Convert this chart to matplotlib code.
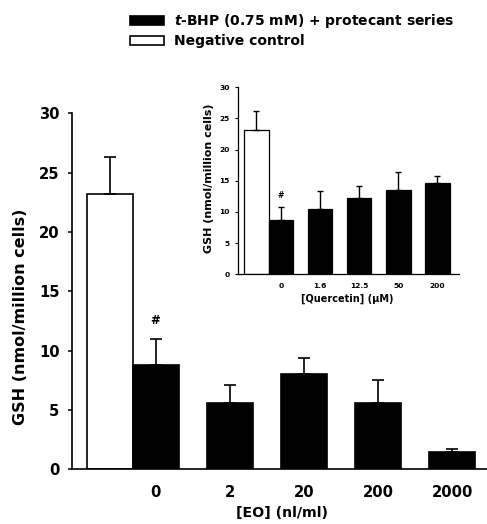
import matplotlib
matplotlib.use("Agg")
import matplotlib.pyplot as plt
from matplotlib.patches import Patch

plt.rcParams["font.family"] = "DejaVu Sans"
plt.rcParams["font.weight"] = "bold"
plt.rcParams["mathtext.fontset"] = "custom"
plt.rcParams["mathtext.bfit"] = "DejaVu Sans:italic:bold"

# GSH levels, EO series (main panel)
eo_labels = ["0", "2", "20", "200", "2000"]
eo_means = [8.8, 5.6, 8.0, 5.55, 1.45]
eo_sem = [2.15, 1.5, 1.4, 1.95, 0.3]
eo_control_mean = 23.2
eo_control_sem = 3.1

# GSH levels, quercetin series (inset)
q_labels = ["0", "1.6", "12.5", "50", "200"]
q_means = [8.7, 10.4, 12.2, 13.45, 14.6]
q_sem = [2.1, 2.95, 2.0, 2.95, 1.2]
q_control_mean = 23.2
q_control_sem = 3.0

W, H = 487, 524


def px(x, y):
    # pixel position -> figure fraction
    return x / W, 1 - y / H


def draw_panel(ax, labels, means, sem, ctrl_mean, ctrl_sem, width, lw, capsize, edge_lw):
    pos = list(range(len(labels)))
    ax.bar(-width, ctrl_mean, width=width, color="white",
           edgecolor="black", linewidth=edge_lw, zorder=2)
    ax.bar(pos, means, width=width, color="black",
           edgecolor="black", linewidth=edge_lw, zorder=2)
    ax.errorbar([-width], [ctrl_mean], yerr=[[0], [ctrl_sem]], fmt="none",
                ecolor="black", elinewidth=lw, capsize=capsize, capthick=lw, zorder=3)
    ax.errorbar(pos, means, yerr=[[0] * len(sem), sem], fmt="none",
                ecolor="black", elinewidth=lw, capsize=capsize, capthick=lw, zorder=3)
    ax.set_xticks(pos)
    ax.set_xticklabels(labels)
    ax.set_ylim(0, 30)
    ax.set_yticks(range(0, 31, 5))
    for side in ["top", "right"]:
        ax.spines[side].set_visible(False)
    return pos


fig = plt.figure(figsize=(W / 100, H / 100), dpi=100)

# main panel
ax = fig.add_axes([72 / W, 1 - 469.3 / H, (W - 72) / W, 356 / H])
draw_panel(ax, eo_labels, eo_means, eo_sem, eo_control_mean, eo_control_sem,
           width=0.62, lw=1.2, capsize=4.3, edge_lw=1.2)
ax.set_xlim(-1.127, 4.47)
for side in ["left", "bottom"]:
    ax.spines[side].set_linewidth(1.2)
ax.tick_params(axis="y", direction="out", length=3, width=1.1, pad=6, labelsize=10.6)
ax.tick_params(axis="x", length=0, pad=11, labelsize=10.6)
ax.text(0, eo_means[0] + eo_sem[0] + 1.6, "#", ha="center", va="center",
        fontsize=8.5, fontweight="bold")

fig.text(*px(20.5, 316.5), "GSH (nmol/million cells)", rotation=90,
         ha="center", va="center", fontsize=11.5, fontweight="bold")
fig.text(*px(282, 513), "[EO] (nl/ml)", ha="center", va="center",
         fontsize=10.2, fontweight="bold")

# inset panel
ins = fig.add_axes([237.5 / W, 1 - 274.3 / H, 221.5 / W, 187 / H])
draw_panel(ins, q_labels, q_means, q_sem, q_control_mean, q_control_sem,
           width=0.627, lw=1.0, capsize=2.2, edge_lw=0.9)
ins.set_xlim(-1.11, 4.55)
for side in ["left", "bottom"]:
    ins.spines[side].set_linewidth(0.9)
ins.tick_params(axis="y", direction="out", length=2.2, width=0.8, pad=3.5, labelsize=5.4)
ins.tick_params(axis="x", length=0, pad=6, labelsize=5.4)
ins.text(0, q_means[0] + q_sem[0] + 1.8, "#", ha="center", va="center",
         fontsize=5.5, fontweight="bold")

fig.text(*px(209, 178), "GSH (nmol/million cells)", rotation=90,
         ha="center", va="center", fontsize=8, fontweight="bold")
fig.text(*px(347, 298.5), "[Quercetin] (\u00b5M)", ha="center", va="center",
         fontsize=7, fontweight="bold")

# legend
handles = [
    Patch(facecolor="black", edgecolor="black", linewidth=1.2),
    Patch(facecolor="white", edgecolor="black", linewidth=1.2),
]
names = [r"$\mathbfit{t}$-BHP (0.75 mM) + protecant series", "Negative control"]
fig.legend(handles, names, loc="upper left", bbox_to_anchor=px(130, 12),
           frameon=False, borderpad=0, borderaxespad=0, fontsize=10,
           handlelength=2.45, handleheight=0.6, handletextpad=0.72,
           labelspacing=0.3, prop={"weight": "bold", "size": 10})

fig.savefig("out.png", dpi=100)
